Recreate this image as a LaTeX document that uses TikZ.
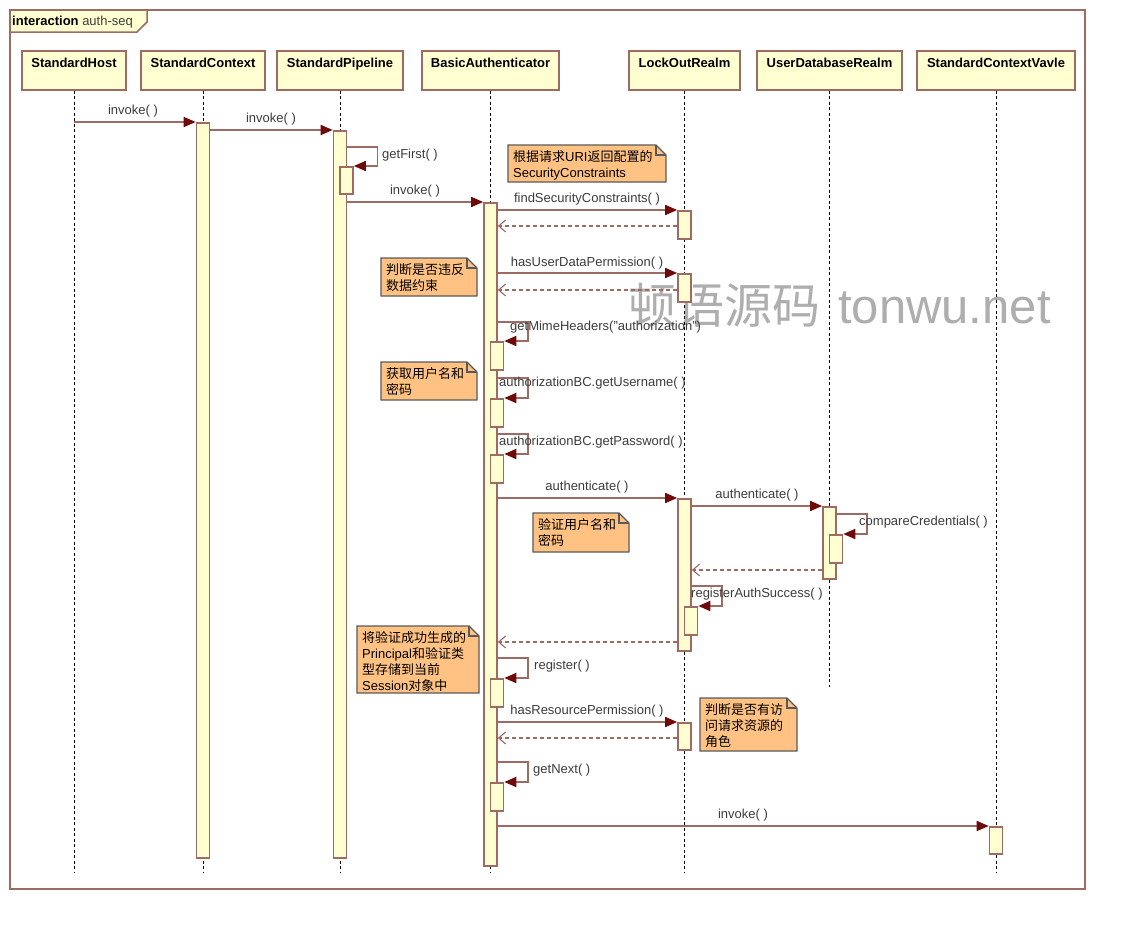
\documentclass[tikz,border=0pt]{standalone}
\usepackage{fontspec}
\setmainfont{Liberation Sans}
\newfontfamily\cjk{Noto Sans CJK SC}
\usetikzlibrary{arrows.meta,calc}
\definecolor{boxfill}{HTML}{FFFFD2}
\definecolor{brd}{HTML}{9E6B63}
\definecolor{tipred}{HTML}{6E0A0A}
\definecolor{notefill}{HTML}{FFC282}
\definecolor{notedraw}{HTML}{5A5A5A}
\definecolor{lbltxt}{HTML}{3C3C3C}
\definecolor{wmgray}{HTML}{AEAEAE}
\tikzset{
  head/.style={draw=brd, fill=boxfill, line width=1.6pt, minimum height=39pt, inner sep=0, anchor=north},
  htxt/.style={font=\fontsize{13pt}{15pt}\selectfont\bfseries, text=black, inner sep=0, anchor=base},
  act/.style={draw=brd, fill=boxfill, line width=1.6pt, minimum width=13pt, inner sep=0, anchor=north},
  life/.style={draw=black, line width=0.9pt, dash pattern=on 3pt off 2.5pt},
  msg/.style={draw=brd, line width=1.6pt, -{Triangle[length=12pt,width=10pt,color=tipred]}},
  ret/.style={draw=brd, line width=1.4pt, dash pattern=on 4pt off 3pt, -{Straight Barb[length=7pt,width=12pt,line width=1.1pt]}},
  lbl/.style={font=\fontsize{13pt}{15pt}\selectfont, text=lbltxt, inner sep=0},
  notetext/.style={font=\fontsize{13pt}{16pt}\selectfont, text=black, inner sep=0, align=left, anchor=north west},
  noteshape/.style={fill=notefill, draw=notedraw, line width=1.4pt, line join=miter},
}
\newcommand\actbar[4]{\node[act, minimum height={(#4-#3)*1pt}] (#1) at (#2,#3) {};}
\newcommand\umlnote[6]{%
  \draw[noteshape] (#2,#3) -- (#4-10,#3) -- (#4,#3+10) -- (#4,#5) -- (#2,#5) -- cycle;
  \draw[draw=notedraw, line width=1.1pt] (#4-10,#3) -- (#4-10,#3+10) -- (#4,#3+10);
  \node[notetext] (#1) at (#2+5,#3+5) {#6};}
\begin{document}
\begin{tikzpicture}[x=1pt,y=-1pt]
\useasboundingbox (0,0) rectangle (1133,930);
\fill[white] (0,0) rectangle (1133,930);
% frame
\draw[brd, line width=1.5pt] (10,10) rectangle (1085,889);
\draw[brd, fill=boxfill, line width=1.5pt] (10,10) -- (147,10) -- (147,22) -- (137,32) -- (10,32) -- cycle;
\node[anchor=base west, inner sep=0, font=\fontsize{13pt}{15pt}\selectfont, text=black] (ftag) at (12,25) {\textbf{interaction} \textcolor{lbltxt}{auth-seq}};
% watermark
\node[anchor=base west, inner sep=0, text=wmgray] (wm) at (628,323) {{\cjk\fontsize{48pt}{50pt}\selectfont 顿语源码}\hspace{18pt}{\fontsize{49pt}{52pt}\selectfont tonwu.net}};
% headers
\node[head, minimum width=104pt] (hH) at (74,50) {};
\node[head, minimum width=124pt] (hC) at (203,50) {};
\node[head, minimum width=126pt] (hP) at (340,50) {};
\node[head, minimum width=137pt] (hA) at (490.5,50) {};
\node[head, minimum width=111pt] (hL) at (684.5,50) {};
\node[head, minimum width=145pt] (hU) at (829.5,50) {};
\node[head, minimum width=158pt] (hV) at (996,50) {};
\node[htxt] (tH) at (74,67) {StandardHost};
\node[htxt] (tC) at (203,67) {StandardContext};
\node[htxt] (tP) at (340,67) {StandardPipeline};
\node[htxt] (tA) at (490.5,67) {BasicAuthenticator};
\node[htxt] (tL) at (684.5,67) {LockOutRealm};
\node[htxt] (tU) at (829.5,67) {UserDatabaseRealm};
\node[htxt] (tV) at (996,67) {StandardContextVavle};
% lifelines
\coordinate (eH) at (74,873);
\coordinate (eC) at (203,873);
\coordinate (eP) at (340,873);
\coordinate (eA) at (490.5,873);
\coordinate (eL) at (684.5,873);
\coordinate (eU) at (829.5,687);
\coordinate (eV) at (996,873);
\draw[life] (hH.south) -- (eH);
\draw[life] (hC.south) -- (eC);
\draw[life] (hP.south) -- (eP);
\draw[life] (hA.south) -- (eA);
\draw[life] (hL.south) -- (eL);
\draw[life] (hU.south) -- (eU);
\draw[life] (hV.south) -- (eV);
% notes
\umlnote{n1}{508}{145}{666}{182}{{\cjk 根据请求}URI{\cjk 返回配置的}\\SecurityConstraints}
\umlnote{n2}{381}{258}{477}{296}{{\cjk 判断是否违反}\\{\cjk 数据约束}}
\umlnote{n3}{381}{362}{477}{400}{{\cjk 获取用户名和}\\{\cjk 密码}}
\umlnote{n4}{533}{513}{629}{552}{{\cjk 验证用户名和}\\{\cjk 密码}}
\umlnote{n5}{357}{626}{479}{693}{{\cjk 将验证成功生成的}\\Principal{\cjk 和验证类}\\{\cjk 型存储到当前}\\Session{\cjk 对象中}}
\umlnote{n6}{700}{698}{797}{751}{{\cjk 判断是否有访}\\{\cjk 问请求资源的}\\{\cjk 角色}}
% activation bars
\actbar{ctxA}{203}{122}{857}
\actbar{pipA}{340}{130}{857}
\actbar{pipB}{346.5}{166}{193}
\actbar{authA}{490.5}{202}{865}
\actbar{lk1}{684.5}{210}{238}
\actbar{lk2}{684.5}{273}{301}
\actbar{au1}{497}{341}{369}
\actbar{au2}{497}{398}{426}
\actbar{au3}{497}{454}{482}
\actbar{lk3}{684.5}{498}{650}
\actbar{ud1}{829.5}{506}{578}
\actbar{ud2}{836}{534}{562}
\actbar{lk4}{691}{606}{634}
\actbar{au4}{497}{678}{706}
\actbar{lk5}{684.5}{722}{749}
\actbar{au5}{497}{782}{810}
\actbar{vv1}{996}{826}{853}
% messages
\draw[msg] (hH.south |- 0,122) -- (ctxA.north west);
\draw[msg] (ctxA.east |- 0,130) -- (pipA.north west);
\draw[msg] (pipA.east |- 0,147) -- ++(30,0) |- (pipB.north east);
\draw[msg] (pipA.east |- 0,202) -- (authA.north west);
\draw[msg] (authA.east |- 0,210) -- (lk1.north west);
\draw[ret] (lk1.west |- 0,226) -- (authA.east |- 0,226);
\draw[msg] (authA.east |- 0,273) -- (lk2.north west);
\draw[ret] (lk2.west |- 0,290) -- (authA.east |- 0,290);
\draw[msg] (authA.east |- 0,322) -- ++(30,0) |- (au1.north east);
\draw[msg] (authA.east |- 0,378) -- ++(30,0) |- (au2.north east);
\draw[msg] (authA.east |- 0,434) -- ++(30,0) |- (au3.north east);
\draw[msg] (authA.east |- 0,498) -- (lk3.north west);
\draw[msg] (lk3.east |- 0,506) -- (ud1.north west);
\draw[msg] (ud1.east |- 0,514) -- ++(30,0) |- (ud2.north east);
\draw[ret] (ud1.west |- 0,570) -- (lk3.east |- 0,570);
\draw[msg] (lk3.east |- 0,586) -- ++(30,0) |- (lk4.north east);
\draw[ret] (lk3.west |- 0,642) -- (authA.east |- 0,642);
\draw[msg] (authA.east |- 0,658) -- ++(30,0) |- (au4.north east);
\draw[msg] (authA.east |- 0,722) -- (lk5.north west);
\draw[ret] (lk5.west |- 0,738) -- (authA.east |- 0,738);
\draw[msg] (authA.east |- 0,762) -- ++(30,0) |- (au5.north east);
\draw[msg] (authA.east |- 0,826) -- (vv1.north west);
% labels
\node[lbl] (l1) at (133,111) {invoke( )};
\node[lbl] (l2) at (271,119) {invoke( )};
\node[lbl, anchor=west] (l3) at (382,155) {getFirst( )};
\node[lbl] (l4) at (415,191) {invoke( )};
\node[lbl] (l5) at (587,199) {findSecurityConstraints( )};
\node[lbl] (l6) at (587,263) {hasUserDataPermission( )};
\node[lbl, anchor=west] (l7) at (510,327) {getMimeHeaders("authorization")};
\node[lbl, anchor=west] (l8) at (499,383) {authorizationBC.getUsername( )};
\node[lbl, anchor=west] (l9) at (499,442) {authorizationBC.getPassword( )};
\node[lbl] (l10) at (587,487) {authenticate( )};
\node[lbl] (l11) at (757,495) {authenticate( )};
\node[lbl, anchor=west] (l12) at (859,522) {compareCredentials( )};
\node[lbl, anchor=west] (l13) at (691,594) {registerAuthSuccess( )};
\node[lbl, anchor=west] (l14) at (534,666) {register( )};
\node[lbl] (l15) at (587,711) {hasResourcePermission( )};
\node[lbl, anchor=west] (l16) at (533,770) {getNext( )};
\node[lbl] (l17) at (743,815) {invoke( )};
\end{tikzpicture}
\end{document}
